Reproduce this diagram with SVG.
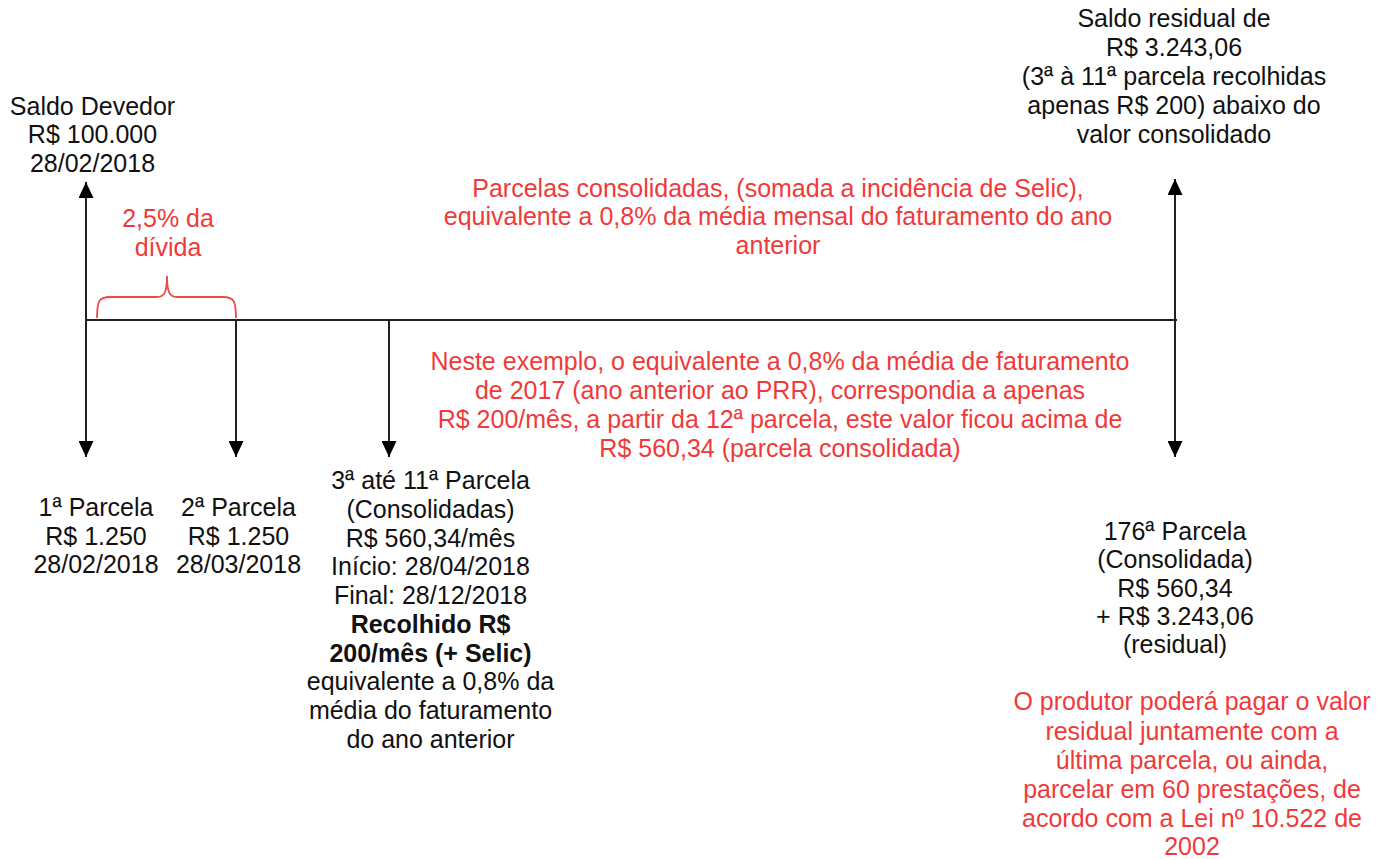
<svg xmlns="http://www.w3.org/2000/svg" width="1390" height="859" viewBox="0 0 1390 859">
<style>
text{font-family:"Liberation Sans",Arial,sans-serif;font-size:25px;text-anchor:middle;fill:#111}
.r{fill:#f03a3a}
.b{font-weight:bold}
.ln{stroke:#222;stroke-width:2;fill:none}
.br{stroke:#f04848;stroke-width:1.8;fill:none}
</style>
<defs>
<marker id="ah" viewBox="0 0 16 15" refX="16" refY="7.5" markerWidth="16" markerHeight="15" markerUnits="userSpaceOnUse" orient="auto">
<path d="M0,0 L16,7.5 L0,15 Z" fill="#000"/>
</marker>
</defs>
<rect width="1390" height="859" fill="#fff"/>
<g id="connectors">
<line class="ln" x1="86" y1="320" x2="1177" y2="320"/>
<line class="ln" x1="86" y1="320" x2="86" y2="182" marker-end="url(#ah)"/>
<line class="ln" x1="1175" y1="320" x2="1175" y2="179" marker-end="url(#ah)"/>
<line class="ln" x1="86" y1="320" x2="86" y2="457" marker-end="url(#ah)"/>
<line class="ln" x1="236" y1="320" x2="236" y2="457" marker-end="url(#ah)"/>
<line class="ln" x1="389" y1="320" x2="389" y2="457" marker-end="url(#ah)"/>
<line class="ln" x1="1175" y1="320" x2="1175" y2="457" marker-end="url(#ah)"/>
<path class="br" d="M97,318 C97,301 99,297 110,297 L157,297 C164,297 167,293 167,276 C167,293 170,297 177,297 L223,297 C234,297 236,301 236,318"/>
</g>
<g id="saldo-devedor">
<text x="92.5" y="115">Saldo Devedor</text>
<text x="92.5" y="143">R$ 100.000</text>
<text x="92.5" y="172">28/02/2018</text>
</g>
<g id="entrada">
<text class="r" x="168" y="227">2,5% da</text>
<text class="r" x="168" y="256">dívida</text>
</g>
<g id="saldo-residual">
<text x="1174" y="27">Saldo residual de</text>
<text x="1174" y="56">R$ 3.243,06</text>
<text x="1174" y="85">(3ª à 11ª parcela recolhidas</text>
<text x="1174" y="114">apenas R$ 200) abaixo do</text>
<text x="1174" y="143">valor consolidado</text>
</g>
<g id="nota-parcelas">
<text class="r" x="778" y="197">Parcelas consolidadas, (somada a incidência de Selic),</text>
<text class="r" x="778" y="225">equivalente a 0,8% da média mensal do faturamento do ano</text>
<text class="r" x="778" y="254">anterior</text>
</g>
<g id="nota-exemplo">
<text class="r" x="780" y="370">Neste exemplo, o equivalente a 0,8% da média de faturamento</text>
<text class="r" x="780" y="399">de 2017 (ano anterior ao PRR), correspondia a apenas</text>
<text class="r" x="780" y="428">R$ 200/mês, a partir da 12ª parcela, este valor ficou acima de</text>
<text class="r" x="780" y="457">R$ 560,34 (parcela consolidada)</text>
</g>
<g id="parcela-1">
<text x="96" y="516">1ª Parcela</text>
<text x="96" y="545">R$ 1.250</text>
<text x="96" y="573">28/02/2018</text>
</g>
<g id="parcela-2">
<text x="238.5" y="516">2ª Parcela</text>
<text x="238.5" y="545">R$ 1.250</text>
<text x="238.5" y="573">28/03/2018</text>
</g>
<g id="parcelas-3-11">
<text x="430.5" y="489">3ª até 11ª Parcela</text>
<text x="430.5" y="518">(Consolidadas)</text>
<text x="430.5" y="547">R$ 560,34/mês</text>
<text x="430.5" y="575">Início: 28/04/2018</text>
<text x="430.5" y="604">Final: 28/12/2018</text>
<text class="b" x="430.5" y="633">Recolhido R$</text>
<text class="b" x="430.5" y="662">200/mês (+ Selic)</text>
<text x="430.5" y="690">equivalente a 0,8% da</text>
<text x="430.5" y="719">média do faturamento</text>
<text x="430.5" y="748">do ano anterior</text>
</g>
<g id="parcela-176">
<text x="1175" y="540">176ª Parcela</text>
<text x="1175" y="568">(Consolidada)</text>
<text x="1175" y="597">R$ 560,34</text>
<text x="1175" y="625">+ R$ 3.243,06</text>
<text x="1175" y="653">(residual)</text>
</g>
<g id="nota-residual">
<text class="r" x="1192" y="710">O produtor poderá pagar o valor</text>
<text class="r" x="1192" y="740">residual juntamente com a</text>
<text class="r" x="1192" y="769">última parcela, ou ainda,</text>
<text class="r" x="1192" y="798">parcelar em 60 prestações, de</text>
<text class="r" x="1192" y="827">acordo com a Lei nº 10.522 de</text>
<text class="r" x="1192" y="855">2002</text>
</g>
</svg>
